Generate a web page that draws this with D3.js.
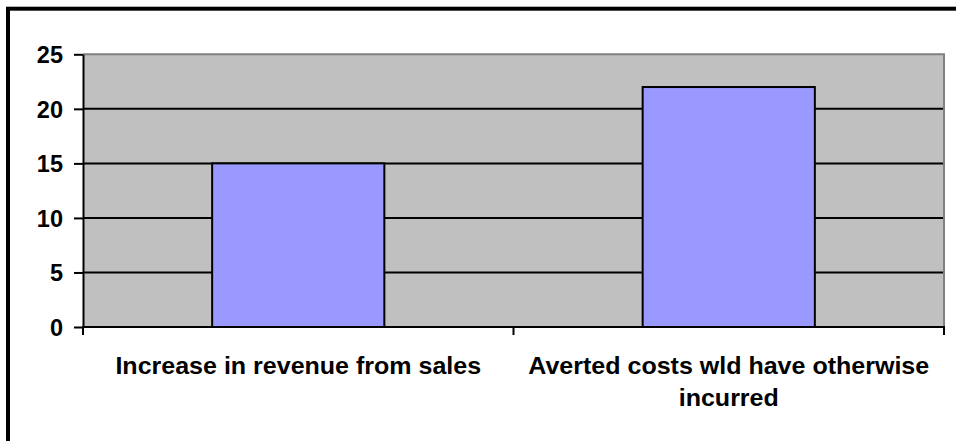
<!DOCTYPE html>
<html>
<head>
<meta charset="utf-8">
<script src="https://cdn.jsdelivr.net/npm/d3@7"></script>
<style>
  body { margin: 0; background: #fff; }
  svg { display: block; }
  text { font-family: "Liberation Sans", Arial, sans-serif; font-weight: bold; fill: #000; }
</style>
</head>
<body>
<div id="chart"></div>
<script>
// data
const categories = ["Increase in revenue from sales", "Averted costs wld have otherwise incurred"];
const values = [15, 22];
const yTicks = [0, 5, 10, 15, 20, 25];

const W = 956, H = 441;
// plot area
const plot = { left: 83, right: 944, top: 54.3, bottom: 327 };
const stretch = 1.065; // category labels are a touch wider than the font

const svg = d3.select("#chart")
    .append("svg")
    .attr("width", W)
    .attr("height", H);

// outer frame (runs off the right and bottom of the picture)
svg.append("rect")
    .attr("x", 8).attr("y", 8.7)
    .attr("width", W + 20).attr("height", H + 20)
    .attr("fill", "#fff")
    .attr("stroke", "#000")
    .attr("stroke-width", 4);

const x = d3.scaleBand()
    .domain(categories)
    .range([plot.left, plot.right])
    .padding(0);

const y = d3.scaleLinear()
    .domain([0, 25])
    .range([plot.bottom, plot.top]);

// grey plot background
svg.append("rect")
    .attr("x", plot.left).attr("y", plot.top)
    .attr("width", plot.right - plot.left)
    .attr("height", plot.bottom - plot.top)
    .attr("fill", "#c0c0c0");

// gridlines
svg.append("g")
    .selectAll("line")
    .data(yTicks.filter(d => d > 0 && d < 25))
    .join("line")
    .attr("x1", plot.left).attr("x2", plot.right)
    .attr("y1", d => y(d)).attr("y2", d => y(d))
    .attr("stroke", "#000")
    .attr("stroke-width", 2);

// plot border top / right
svg.append("path")
    .attr("d", `M${plot.left},${plot.top}H${plot.right}V${plot.bottom}`)
    .attr("fill", "none")
    .attr("stroke", "#808080")
    .attr("stroke-width", 2);

// bars, 40% of each category slot
const barW = x.bandwidth() * 0.4;
svg.append("g")
    .selectAll("rect")
    .data(values)
    .join("rect")
    .attr("x", (d, i) => x(categories[i]) + (x.bandwidth() - barW) / 2)
    .attr("y", d => y(d))
    .attr("width", barW)
    .attr("height", d => y(0) - y(d))
    .attr("fill", "#9999ff")
    .attr("stroke", "#000")
    .attr("stroke-width", 2);

// y axis
const yAxis = d3.axisLeft(y)
    .tickValues(yTicks)
    .tickSize(9)
    .tickPadding(11)
    .tickSizeOuter(0);

const gy = svg.append("g")
    .attr("transform", `translate(${plot.left},0)`)
    .call(yAxis);
gy.selectAll("line, path").attr("stroke", "#000").attr("stroke-width", 2);
gy.selectAll("text")
    .style("font-size", "23.5px")
    .attr("fill", "#000")
    .attr("dy", "0.36em");

// x axis: ticks on category boundaries
const bounds = [plot.left].concat(categories.map(c => x(c) + x.bandwidth()));
svg.append("line")
    .attr("x1", plot.left - 1).attr("x2", plot.right + 1)
    .attr("y1", plot.bottom).attr("y2", plot.bottom)
    .attr("stroke", "#000").attr("stroke-width", 2);
svg.append("g")
    .selectAll("line")
    .data(bounds)
    .join("line")
    .attr("x1", d => d).attr("x2", d => d)
    .attr("y1", plot.bottom).attr("y2", plot.bottom + 8)
    .attr("stroke", "#000").attr("stroke-width", 2);

// category labels, wrapped to the slot width
const lineGap = 32;
categories.forEach(c => {
    const g = svg.append("g")
        .attr("transform", `translate(${x(c) + x.bandwidth() / 2},374) scale(${stretch},1)`);
    const maxW = (x.bandwidth() - 20) / stretch;
    const words = c.split(" ");
    const lines = [];
    let cur = [];
    const probe = g.append("text").style("font-size", "23.5px");
    words.forEach(w => {
        const test = cur.concat([w]).join(" ");
        probe.text(test);
        if (probe.node().getComputedTextLength() > maxW && cur.length) {
            lines.push(cur.join(" "));
            cur = [w];
        } else {
            cur.push(w);
        }
    });
    lines.push(cur.join(" "));
    probe.remove();
    lines.forEach((l, i) => {
        g.append("text")
            .attr("y", i * lineGap)
            .attr("text-anchor", "middle")
            .style("font-size", "23.5px")
            .text(l);
    });
});
</script>
</body>
</html>
